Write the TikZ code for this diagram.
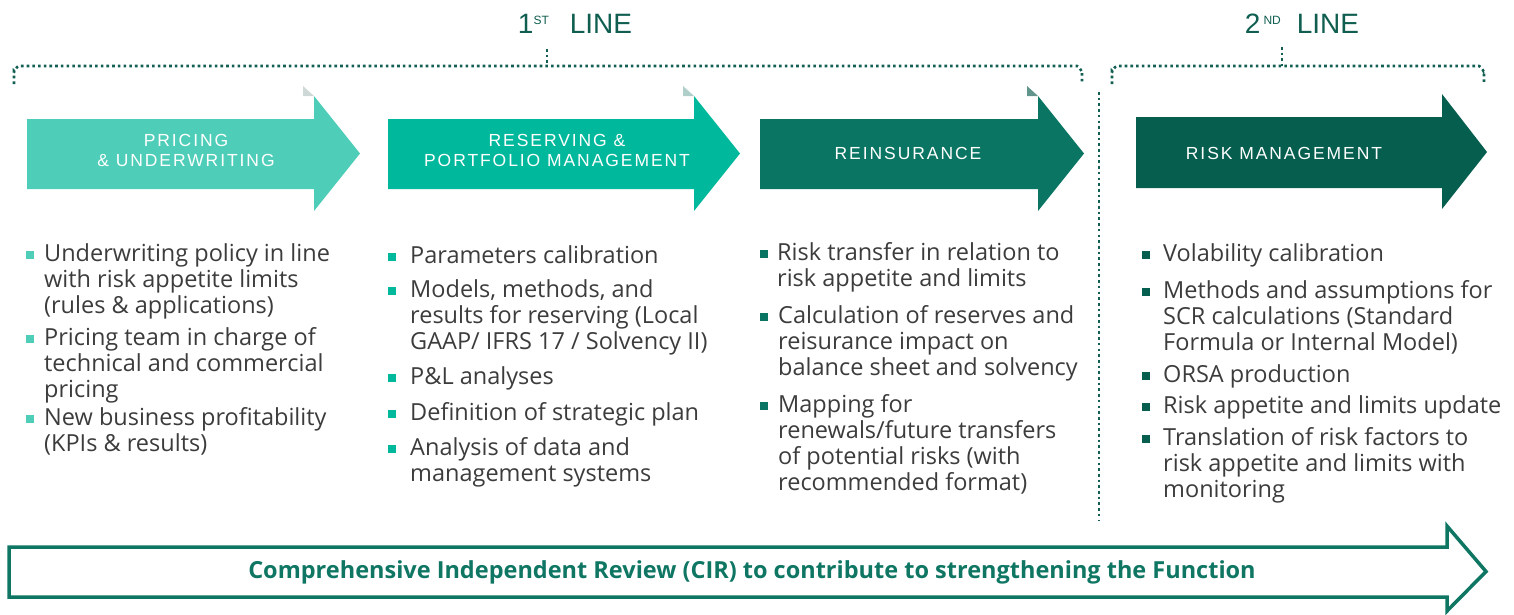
\documentclass[tikz,border=0pt]{standalone}
\usepackage{fontspec}
\setmainfont{Open Sans}
\newfontfamily\hdfont{Liberation Sans}
\newfontfamily\labfont[LetterSpace=11]{Liberation Sans}
\definecolor{c1}{HTML}{4ECDB8}
\definecolor{c2}{HTML}{00B89C}
\definecolor{c3}{HTML}{0B7563}
\definecolor{c4}{HTML}{065E4E}
\definecolor{hd}{HTML}{0F5E50}
\definecolor{dotc}{HTML}{135F53}
\definecolor{bot}{HTML}{0E7663}
\definecolor{txt}{HTML}{3C3C3C}
\newcommand\lns[1]{\begin{tabular}[t]{@{}l@{}}#1\end{tabular}}
\begin{document}
\begin{tikzpicture}[x=1pt,y=-1pt,
  item/.style={anchor=base west, inner sep=0pt, font=\fontsize{23.5}{26}\selectfont, text=txt},
  lab/.style={text=white, font=\labfont\fontsize{17.5}{20}\selectfont, align=center, inner sep=0pt},
  hdr/.style={text=hd, font=\hdfont\fontsize{28}{30}\selectfont, inner sep=0pt, anchor=base},
  dotline/.style={draw=dotc, line width=2.6pt, dash pattern=on 2.6pt off 3.1pt},
]
\useasboundingbox (0,0) rectangle (1514,614);

% header texts
\node[hdr] (line1) at (575,33) {1\raisebox{9pt}{\fontsize{12}{12}\selectfont ST}\hspace{21pt}LINE};
\node[hdr] (line2) at (1302,33) {2\raisebox{9pt}{\fontsize{12}{12}\selectfont\hspace{3pt}ND}\hspace{16pt}LINE};

% brackets
\draw[dotline] (14,84) -- (14,71) to[out=-90,in=180] (19,66) -- (1077,66) to[out=0,in=-90] (1082,71) -- (1082,84);
\draw[dotline] (547,49) -- (547,66);
\draw[dotline] (1112,84) -- (1112,71) to[out=-90,in=180] (1117,66) -- (1479,66) to[out=0,in=-90] (1484,71) -- (1484,84);
\draw[dotline] (1282,47) -- (1282,66);
\draw[dotline] (1099,92) -- (1099,520);

% fold triangles
\fill[c1!25!gray!35] (303,86) -- (303,96) -- (314,96) -- cycle;
\fill[c2!35!gray!45] (683,86) -- (683,96) -- (694,96) -- cycle;
\fill[c3!60!gray!80] (1027,86) -- (1027,96) -- (1038,96) -- cycle;

% arrows
\fill[c1] (27,119) -- (314,119) -- (314,96) -- (360,153.5) -- (314,211) -- (314,189) -- (27,189) -- cycle;
\fill[c2] (388,119) -- (694,119) -- (694,96) -- (740,153.5) -- (694,211) -- (694,189) -- (388,189) -- cycle;
\fill[c3] (760,119) -- (1038,119) -- (1038,96) -- (1084,153.5) -- (1038,211) -- (1038,189) -- (760,189) -- cycle;
\fill[c4] (1136,117) -- (1442,117) -- (1442,94) -- (1487,152) -- (1442,209) -- (1442,188) -- (1136,188) -- cycle;

\node[lab] (a1) at (186,150.5) {PRICING\\\& UNDERWRITING};
\node[lab] (a2) at (557,150.5) {RESERVING \&\\PORTFOLIO MANAGEMENT};
\node[lab] (a3) at (908,153.5) {REINSURANCE};
\node[lab] (a4) at (1284,153.5) {RISK MANAGEMENT};

% bullets
\foreach \yy in {261,345,425} \fill[c1] (26,\yy-10) rectangle ++(8,8);
\foreach \yy in {263,297,384,420,455} \fill[c2] (388,\yy-10) rectangle ++(8,8);
\foreach \yy in {260,323,412} \fill[c3] (760,\yy-10) rectangle ++(8,8);
\foreach \yy in {261,298,382,413,445} \fill[c4] (1142,\yy-10) rectangle ++(8,8);

% column 1
\node[item] (i11) at (44,261) {\lns{Underwriting policy in line\\with risk appetite limits\\(rules \& applications)}};
\node[item] (i12) at (44,345) {\lns{Pricing team in charge of\\technical and commercial\\pricing}};
\node[item] (i13) at (44,425) {\lns{New business profitability\\(KPIs \& results)}};
% column 2
\node[item] (i21) at (410,263) {Parameters calibration};
\node[item] (i22) at (410,297) {\lns{Models, methods, and\\results for reserving (Local\\GAAP/ IFRS 17 / Solvency II)}};
\node[item] (i23) at (410,384) {P\&L analyses};
\node[item] (i24) at (410,420) {Definition of strategic plan};
\node[item] (i25) at (410,455) {\lns{Analysis of data and\\management systems}};
% column 3
\node[item] (i31) at (777,260) {\lns{Risk transfer in relation to\\risk appetite and limits}};
\node[item] (i32) at (778,323) {\lns{Calculation of reserves and\\reisurance impact on\\balance sheet and solvency}};
\node[item] (i33) at (778,412) {\lns{Mapping for\\renewals/future transfers\\of potential risks (with\\recommended format)}};
% column 4
\node[item] (i41) at (1163,261) {Volability calibration};
\node[item] (i42) at (1163,298) {\lns{Methods and assumptions for\\SCR calculations (Standard\\Formula or Internal Model)}};
\node[item] (i43) at (1163,382) {ORSA production};
\node[item] (i44) at (1163,413) {Risk appetite and limits update};
\node[item] (i45) at (1163,445) {\lns{Translation of risk factors to\\risk appetite and limits with\\monitoring}};

% bottom arrow
\draw[bot, line width=3.5pt, line join=miter] (9,547) -- (1447,547) -- (1447,526) -- (1486,571.5) -- (1447,611) -- (1447,597) -- (9,597) -- cycle;
\node[text=bot, font=\bfseries\fontsize{23.5}{26}\selectfont, anchor=base, inner sep=0pt] (cir) at (752,578) {Comprehensive Independent Review (CIR) to contribute to strengthening the Function};
\end{tikzpicture}
\end{document}
